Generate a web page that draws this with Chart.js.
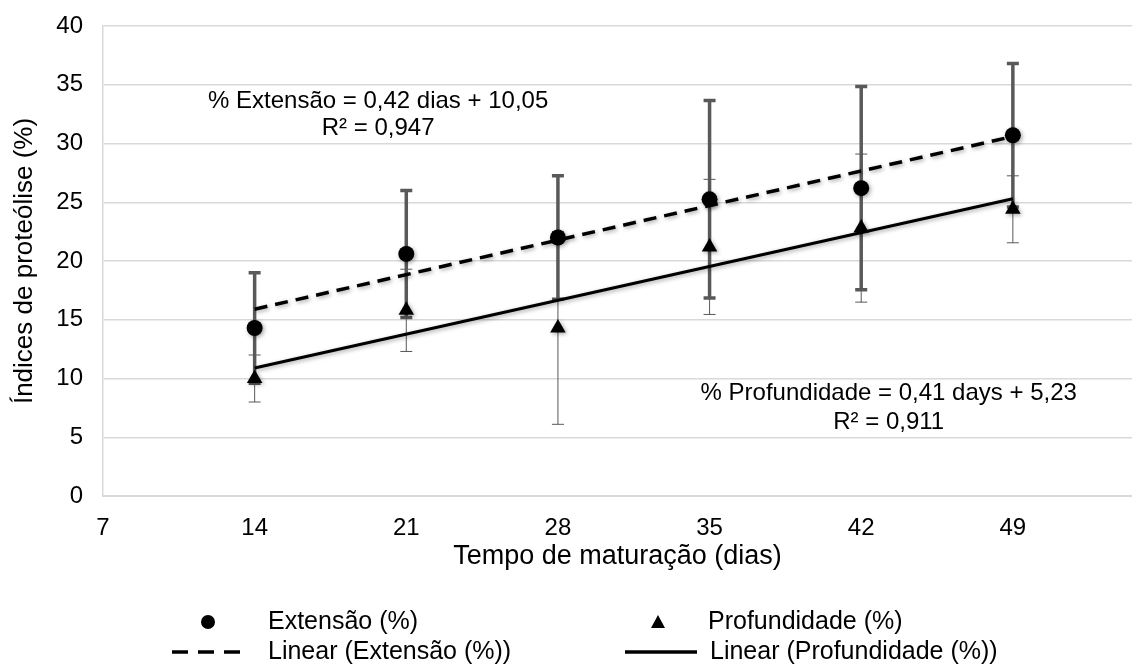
<!DOCTYPE html>
<html><head><meta charset="utf-8">
<script src="https://cdn.jsdelivr.net/npm/chart.js@4.4.1/dist/chart.umd.min.js"></script>
<style>html,body{margin:0;padding:0;background:#fff;}#wrap{width:1132px;height:668px;position:relative;}</style>
</head><body><div id="wrap"><canvas id="c" width="1132" height="668"></canvas></div>
<script>
// ---- data ----
const days = [14, 21, 28, 35, 42, 49];
const extensao = [14.3, 20.6, 22.0, 25.25, 26.2, 30.7];
const extensaoErr = [4.7, 5.4, 5.25, 8.4, 8.65, 6.1];
const profundidade = [10.0, 15.8, 14.3, 21.2, 22.8, 24.4];
const profundidadeErr = [2.0, 3.5, 8.2, 5.75, 6.3, 2.85];
const trendDays = [14, 49];
const trendExtensao = [15.9, 30.6];
const trendProfundidade = [10.9, 25.3];
const xTickValues = [7, 14, 21, 28, 35, 42, 49];
const yTickValues = [0, 5, 10, 15, 20, 25, 30, 35, 40];
const eqExtensao = ['% Extensão = 0,42 dias + 10,05', 'R² = 0,947'];
const eqProfundidade = ['% Profundidade = 0,41 days + 5,23', 'R² = 0,911'];
const legendLabels = ['Extensão (%)', 'Profundidade (%)', 'Linear (Extensão (%))', 'Linear (Profundidade (%))'];
const xTitle = 'Tempo de maturação (dias)';
const yTitle = 'Índices de proteólise (%)';

const FONT = '"Liberation Sans", Arial, sans-serif';
const GRID = '#d9d9d9';
const BAR = '#595959';

const pts = (xs, ys) => xs.map((x, i) => ({x: x, y: ys[i]}));

const errorBars = {
  id: 'errorBars',
  beforeDatasetsDraw(chart) {
    const ctx = chart.ctx, xs = chart.scales.x, ys = chart.scales.y;
    const draw = (vals, errs, lw, capW, capLw) => {
      ctx.save();
      ctx.strokeStyle = BAR;
      days.forEach((d, i) => {
        const px = xs.getPixelForValue(d);
        const top = ys.getPixelForValue(vals[i] + errs[i]);
        const bot = ys.getPixelForValue(vals[i] - errs[i]);
        ctx.lineWidth = lw;
        ctx.beginPath(); ctx.moveTo(px, top); ctx.lineTo(px, bot); ctx.stroke();
        ctx.lineWidth = capLw;
        ctx.beginPath();
        ctx.moveTo(px - capW / 2, top); ctx.lineTo(px + capW / 2, top);
        ctx.moveTo(px - capW / 2, bot); ctx.lineTo(px + capW / 2, bot);
        ctx.stroke();
      });
      ctx.restore();
    };
    draw(extensao, extensaoErr, 3.5, 12, 3.5);
    draw(profundidade, profundidadeErr, 1, 12, 1);
  }
};

const shadow = {
  id: 'shadow',
  beforeDatasetDraw(chart) {
    const ctx = chart.ctx;
    ctx.save();
    ctx.shadowColor = 'rgba(0,0,0,0.35)';
    ctx.shadowBlur = 4;
    ctx.shadowOffsetX = 1.5;
    ctx.shadowOffsetY = 1.5;
  },
  afterDatasetDraw(chart) { chart.ctx.restore(); }
};

const annotations = {
  id: 'annotations',
  afterDatasetsDraw(chart) {
    const ctx = chart.ctx, xs = chart.scales.x, ys = chart.scales.y;
    ctx.save();
    ctx.fillStyle = '#000';
    ctx.font = '24px ' + FONT;
    ctx.textAlign = 'center';
    ctx.textBaseline = 'middle';
    const put = (lines, xv, yv1, yv2) => {
      ctx.fillText(lines[0], xs.getPixelForValue(xv), ys.getPixelForValue(yv1));
      ctx.fillText(lines[1], xs.getPixelForValue(xv), ys.getPixelForValue(yv2));
    };
    put(eqExtensao, 19.7, 33.6, 31.3);
    put(eqProfundidade, 43.27, 8.7, 6.3);
    ctx.restore();
  }
};

const customLegend = {
  id: 'customLegend',
  afterDraw(chart) {
    const ctx = chart.ctx;
    ctx.save();
    ctx.fillStyle = '#000';
    ctx.strokeStyle = '#000';
    ctx.font = '25px ' + FONT;
    ctx.textAlign = 'left';
    ctx.textBaseline = 'middle';
    const r1 = 622, r2 = 652;
    ctx.beginPath(); ctx.arc(208, r1, 7, 0, Math.PI * 2); ctx.fill();
    ctx.fillText(legendLabels[0], 268, r1);
    ctx.beginPath();
    ctx.moveTo(658, r1 - 7); ctx.lineTo(665, r1 + 6); ctx.lineTo(651, r1 + 6); ctx.closePath(); ctx.fill();
    ctx.fillText(legendLabels[1], 708, r1);
    ctx.lineWidth = 3.5;
    ctx.setLineDash([16, 10]);
    ctx.beginPath(); ctx.moveTo(172, r2); ctx.lineTo(240, r2); ctx.stroke();
    ctx.setLineDash([]);
    ctx.fillText(legendLabels[2], 268, r2);
    ctx.beginPath(); ctx.moveTo(625, r2); ctx.lineTo(697, r2); ctx.stroke();
    ctx.fillText(legendLabels[3], 710, r2);
    ctx.restore();
  }
};

new Chart(document.getElementById('c'), {
  type: 'scatter',
  data: {
    datasets: [
      {label: legendLabels[0], data: pts(days, extensao), pointStyle: 'circle', pointRadius: 8,
       backgroundColor: '#000', borderColor: '#000', borderWidth: 0, showLine: false, order: 0},
      {label: legendLabels[1], data: pts(days, profundidade), pointStyle: 'triangle', pointRadius: 9,
       backgroundColor: '#000', borderColor: '#000', borderWidth: 0, showLine: false, order: 0},
      {label: legendLabels[2], data: pts(trendDays, trendExtensao), showLine: true, pointRadius: 0,
       borderColor: '#000', borderWidth: 3.5, borderDash: [13, 8], order: 1},
      {label: legendLabels[3], data: pts(trendDays, trendProfundidade), showLine: true, pointRadius: 0,
       borderColor: '#000', borderWidth: 3, order: 1}
    ]
  },
  options: {
    responsive: false,
    animation: false,
    devicePixelRatio: 1,
    layout: {autoPadding: false, padding: {top: 26, right: 0, bottom: 92, left: 0}},
    plugins: {legend: {display: false}, tooltip: {enabled: false}},
    scales: {
      x: {
        type: 'linear', min: 7, max: 54.5,
        afterBuildTicks: s => { s.ticks = xTickValues.map(v => ({value: v})); },
        afterFit: s => { s.height = 80; },
        grid: {display: false, drawTicks: false},
        border: {display: true, color: GRID, width: 2},
        ticks: {color: '#000', font: {family: FONT, size: 24}, padding: 18, maxRotation: 0},
        title: {display: true, text: xTitle, color: '#000', font: {family: FONT, size: 27}, padding: {top: 0, bottom: 3.5}}
      },
      y: {
        type: 'linear', min: 0, max: 40,
        afterBuildTicks: s => { s.ticks = yTickValues.map(v => ({value: v})); },
        afterFit: s => { s.width = 103; },
        grid: {color: GRID, lineWidth: 1.5, drawTicks: false},
        border: {display: true, color: GRID, width: 1.5},
        ticks: {color: '#000', font: {family: FONT, size: 24, lineHeight: 0.5}, padding: 20},
        title: {display: true, text: yTitle, color: '#000', font: {family: FONT, size: 26}, padding: {top: 9, bottom: 0}}
      }
    }
  },
  plugins: [errorBars, shadow, annotations, customLegend]
});
</script></body></html>
